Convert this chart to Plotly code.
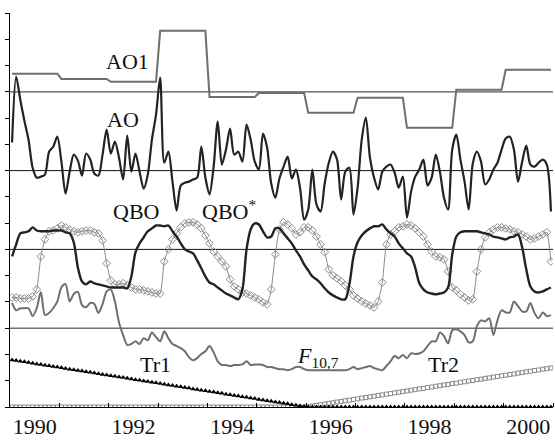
import numpy as np
import plotly.graph_objects as go

# ---------------- data (monthly, Jan 1990 - Dec 2000) ----------------
start_year = 1990
n_months = 132
years = list(range(1990, 2001))
tick_labels = ["1990", "1992", "1994", "1996", "1998", "2000"]

# AO1: annual level, one value per year
ao1_annual = [0.69, 0.49, 0.38, 2.32, -0.20, -0.05, -0.80, -0.23, -1.37, 0.08, 0.84]

# AO index (monthly)
ao = [1.07, 3.58, 2.70, 1.90, 1.18, 0.11, -0.27, -0.23, -0.15, 0.72, 0.91, 1.29,
      0.34, -0.88, -0.04, 0.61, 0.38, -0.19, 0.65, 0.42, -0.11, -0.19, 0.61, 1.56,
      0.65, 1.10, 0.49, -0.34, 1.33, -0.04, 0.65, -0.04, -0.69, -0.15, 1.18, 2.13,
      3.54, 0.30, 0.72, -0.42, -1.52, -0.57, -0.46, -0.42, -0.34, -0.27, 0.91, -0.27,
      -0.91, 0.15, 1.87, 0.23, 0.80, 1.60, 0.61, 0.72, 0.34, 1.75, 1.18, 0.34,
      0.04, 1.41, 0.88, -0.49, -1.03, -0.30, 0.15, 0.53, -0.30, 0.04, -0.65, -1.87,
      -1.48, 0.04, -1.29, -1.56, -0.49, 0.30, 0.72, 0.42, -1.10, -0.04, 0.11, -1.67,
      -0.65, 1.18, 2.02, 0.49, -0.27, -0.72, -0.04, 0.15, 0.23, -0.08, -0.65, -0.23,
      -1.79, -0.80, -0.23, 0.04, 0.42, -0.57, -0.27, 0.61, -0.04, -1.03, -1.48, 0.80,
      1.37, 0.42, -0.42, -1.48, 0.27, 0.72, 0.34, -0.53, -0.34, 0.04, 0.30, 0.80,
      1.22, 1.29, 0.80, -0.42, 0.34, 0.95, 0.23, 0.15, 0.30, 0.42, 0.23, -1.56]

# QBO (monthly, normalised)
qbo = [-0.27, 0.19, 0.61, 0.65, 0.69, 0.84, 0.72, 0.69, 0.69, 0.69, 0.72, 0.72,
       0.72, 0.65, 0.61, 0.27, -0.69, -1.22, -1.33, -1.22, -1.29, -1.33, -1.37, -1.41,
       -1.45, -1.45, -1.45, -1.45, -1.48, -1.03, -0.11, 0.23, 0.46, 0.69, 0.80, 0.91,
       0.91, 0.88, 0.91, 0.69, 0.49, 0.23, 0.00, -0.08, -0.15, -0.42, -0.72, -1.03,
       -1.26, -1.33, -1.45, -1.56, -1.68, -1.75, -1.83, -1.90, -1.52, 0.00, 0.76, 0.99,
       0.95, 0.69, 0.46, 0.49, 0.80, 0.80, 0.61, 0.42, 0.23, -0.04, -0.27, -0.57,
       -0.80, -1.03, -1.14, -1.29, -1.48, -1.64, -1.75, -1.83, -1.90, -1.90, -1.33, -0.27,
       0.27, 0.53, 0.69, 0.80, 0.88, 0.88, 0.95, 0.76, 0.61, 0.49, 0.23, 0.04,
       -0.15, -0.27, -0.69, -1.29, -1.52, -1.64, -1.68, -1.71, -1.68, -1.64, -1.45, -0.19,
       0.49, 0.65, 0.69, 0.69, 0.69, 0.69, 0.65, 0.61, 0.57, 0.49, 0.46, 0.42,
       0.38, 0.46, 0.49, 0.57, 0.08, -0.76, -1.41, -1.60, -1.64, -1.60, -1.52, -1.45]

# QBO* (monthly, normalised)
qbo_star = [-1.83, -1.83, -1.87, -1.87, -1.87, -1.79, -1.52, -0.27, 0.38, 0.69, 0.72, 0.80,
            0.91, 0.84, 0.76, 0.69, 0.65, 0.69, 0.72, 0.72, 0.65, 0.61, 0.34, -0.53,
            -1.18, -1.33, -1.33, -1.29, -1.37, -1.45, -1.52, -1.52, -1.56, -1.60, -1.64, -1.68,
            -1.68, -0.46, 0.00, 0.38, 0.61, 0.84, 0.99, 1.03, 1.03, 0.95, 0.80, 0.53,
            0.23, -0.08, -0.27, -0.46, -0.65, -1.14, -1.41, -1.52, -1.64, -1.68, -1.75, -1.83,
            -1.90, -2.02, -2.09, -1.52, -0.19, 0.76, 1.03, 0.95, 0.80, 0.57, 0.65, 0.84,
            0.84, 0.72, 0.49, 0.19, -0.11, -0.76, -0.99, -1.10, -1.22, -1.37, -1.52, -1.75,
            -1.87, -1.98, -2.06, -2.13, -2.21, -1.98, -1.26, 0.19, 0.57, 0.69, 0.84, 0.88,
            0.95, 0.91, 0.80, 0.65, 0.49, 0.19, -0.08, -0.27, -0.30, -0.38, -0.84, -1.45,
            -1.56, -1.71, -1.83, -1.94, -1.90, -0.84, 0.00, 0.46, 0.65, 0.76, 0.84, 0.84,
            0.80, 0.76, 0.69, 0.65, 0.57, 0.49, 0.38, 0.42, 0.49, 0.57, 0.65, -0.46]

# F10.7 solar radio flux, sfu (monthly)
f107 = [198, 184, 188, 188, 188, 173, 188, 219, 175, 179, 188, 201,
        228, 234, 201, 215, 219, 194, 190, 198, 196, 179, 196, 220,
        224, 201, 161, 137, 118, 120, 125, 120, 131, 127, 142, 133,
        125, 144, 131, 120, 116, 112, 106, 95, 89, 93, 101, 106,
        116, 104, 87, 80, 80, 78, 80, 80, 81, 87, 80, 81,
        81, 80, 76, 76, 74, 72, 72, 70, 72, 76, 76, 72,
        70, 70, 70, 70, 70, 70, 70, 70, 70, 70, 72, 76,
        72, 74, 76, 78, 74, 72, 70, 78, 87, 97, 93, 99,
        93, 102, 101, 102, 106, 116, 125, 125, 142, 135, 121, 146,
        148, 144, 137, 123, 125, 154, 165, 163, 169, 137, 165, 184,
        180, 180, 201, 192, 182, 182, 198, 179, 169, 180, 173, 175]

# Linear trends: Tr1 (descending phase), Tr2 (ascending phase)
tr1 = [1.79, 1.77, 1.74, 1.72, 1.69, 1.67, 1.64, 1.62, 1.59, 1.57, 1.54, 1.52,
       1.49, 1.47, 1.44, 1.42, 1.39, 1.37, 1.34, 1.32, 1.29, 1.27, 1.24, 1.22,
       1.19, 1.17, 1.14, 1.12, 1.09, 1.07, 1.04, 1.02, 0.99, 0.97, 0.94, 0.92,
       0.89, 0.87, 0.84, 0.82, 0.79, 0.77, 0.74, 0.72, 0.69, 0.67, 0.64, 0.62,
       0.59, 0.57, 0.54, 0.52, 0.49, 0.47, 0.44, 0.42, 0.39, 0.37, 0.34, 0.32,
       0.29, 0.27, 0.24, 0.22, 0.19, 0.17, 0.14, 0.12, 0.09, 0.07, 0.04, 0.02] + [0.0] * 60
tr2 = [0.0] * 72 + [
       0.01, 0.04, 0.06, 0.09, 0.11, 0.14, 0.16, 0.19, 0.21, 0.24, 0.26, 0.29,
       0.31, 0.34, 0.36, 0.39, 0.41, 0.44, 0.46, 0.49, 0.51, 0.54, 0.56, 0.59,
       0.61, 0.64, 0.66, 0.69, 0.71, 0.74, 0.76, 0.79, 0.81, 0.84, 0.86, 0.89,
       0.91, 0.94, 0.96, 0.99, 1.01, 1.04, 1.06, 1.09, 1.11, 1.14, 1.16, 1.19,
       1.21, 1.24, 1.26, 1.29, 1.31, 1.34, 1.36, 1.39, 1.41, 1.44, 1.46, 1.49]

# ---------------- layout of stacked curves ----------------
# each curve is drawn around its own baseline on a common unitless axis
BASE_AO1, BASE_AO, BASE_QBO, BASE_F = 12.0, 9.0, 6.0, 3.0
F_REF, F_SCALE = 150.0, 50.0   # sfu at baseline, sfu per unit

t = start_year + (np.arange(n_months) + 0.5) / 12.0
ao1_monthly = np.repeat(ao1_annual, 12)

DARK = "#232323"
GREY = "#6f6f6f"
LIGHT = "#8a8a8a"
SERIF = "Liberation Serif, Times New Roman, serif"

fig = go.Figure()

# reference lines for each curve
for base, col, w in [(BASE_AO1, "#555555", 1.3), (BASE_AO, "#111111", 1.0),
                     (BASE_QBO, "#111111", 1.0), (BASE_F, "#707070", 1.5)]:
    fig.add_hline(y=base, line=dict(color=col, width=w), layer="below")

fig.add_trace(go.Scatter(x=t, y=ao1_monthly + BASE_AO1, mode="lines",
                         line=dict(color=GREY, width=2), name="AO1"))
fig.add_trace(go.Scatter(x=t, y=np.array(ao) + BASE_AO, mode="lines",
                         line=dict(color=DARK, width=2.2, shape="spline", smoothing=0.8),
                         name="AO"))
fig.add_trace(go.Scatter(x=t, y=np.array(qbo_star) + BASE_QBO, mode="lines+markers",
                         line=dict(color=LIGHT, width=1, shape="spline", smoothing=0.5),
                         marker=dict(symbol="diamond-open", size=6,
                                     color=LIGHT, line=dict(width=1, color=LIGHT)),
                         name="QBO*"))
fig.add_trace(go.Scatter(x=t, y=np.array(qbo) + BASE_QBO, mode="lines",
                         line=dict(color=DARK, width=2.4, shape="spline", smoothing=0.8),
                         name="QBO"))
fig.add_trace(go.Scatter(x=t, y=(np.array(f107) - F_REF) / F_SCALE + BASE_F, mode="lines",
                         line=dict(color=GREY, width=2, shape="spline", smoothing=0.8),
                         name="F10.7"))
fig.add_trace(go.Scatter(x=t, y=tr2, mode="markers",
                         marker=dict(symbol="square-open", size=4, color=LIGHT,
                                     line=dict(width=1, color=LIGHT)),
                         name="Tr2"))
fig.add_trace(go.Scatter(x=t, y=tr1, mode="markers",
                         marker=dict(symbol="triangle-up", size=5, color="#000000"),
                         name="Tr1"))

# curve labels
label_font = dict(family=SERIF, size=22, color="#111111")
labels = [
    (1992.39, 13.17, "AO1"),
    (1992.29, 10.93, "AO"),
    (1992.55, 7.46, "QBO"),
    (1994.44, 7.50, "QBO<sup>*</sup>"),
    (1992.94, 1.60, "Tr1"),
    (1998.79, 1.60, "Tr2"),
]
for x, y, txt in labels:
    fig.add_annotation(x=x, y=y, text=txt, showarrow=False, font=label_font,
                       xanchor="center", yanchor="middle")
fig.add_annotation(x=1996.23, y=1.90, text="<i>F</i><sub>10,7</sub>", showarrow=False,
                   font=label_font, xanchor="center", yanchor="middle")

fig.update_layout(
    width=555, height=441,
    margin=dict(l=10, r=2, t=13, b=34),
    paper_bgcolor="white", plot_bgcolor="white",
    showlegend=False,
    font=dict(family=SERIF, size=22, color="#111111"),
)
fig.update_xaxes(
    range=[1990, 2001],
    tickmode="array",
    tickvals=[int(s) + 0.5 for s in tick_labels],
    ticktext=tick_labels,
    ticks="", showgrid=False, zeroline=False,
    showline=True, linecolor="#000000", linewidth=1,
    tickfont=dict(family=SERIF, size=22, color="#111111"),
    minor=dict(tickmode="array", tickvals=years[1:] + [2001], ticks="inside",
               ticklen=4, tickcolor="#000000", tickwidth=1, showgrid=False),
)
fig.update_yaxes(
    range=[0, 15],
    tickmode="linear", tick0=0, dtick=1,
    ticks="outside", ticklen=4, tickcolor="#000000", tickwidth=1,
    showticklabels=False, showgrid=False, zeroline=False,
    showline=True, linecolor="#000000", linewidth=1,
)

fig.write_html("out.html")
